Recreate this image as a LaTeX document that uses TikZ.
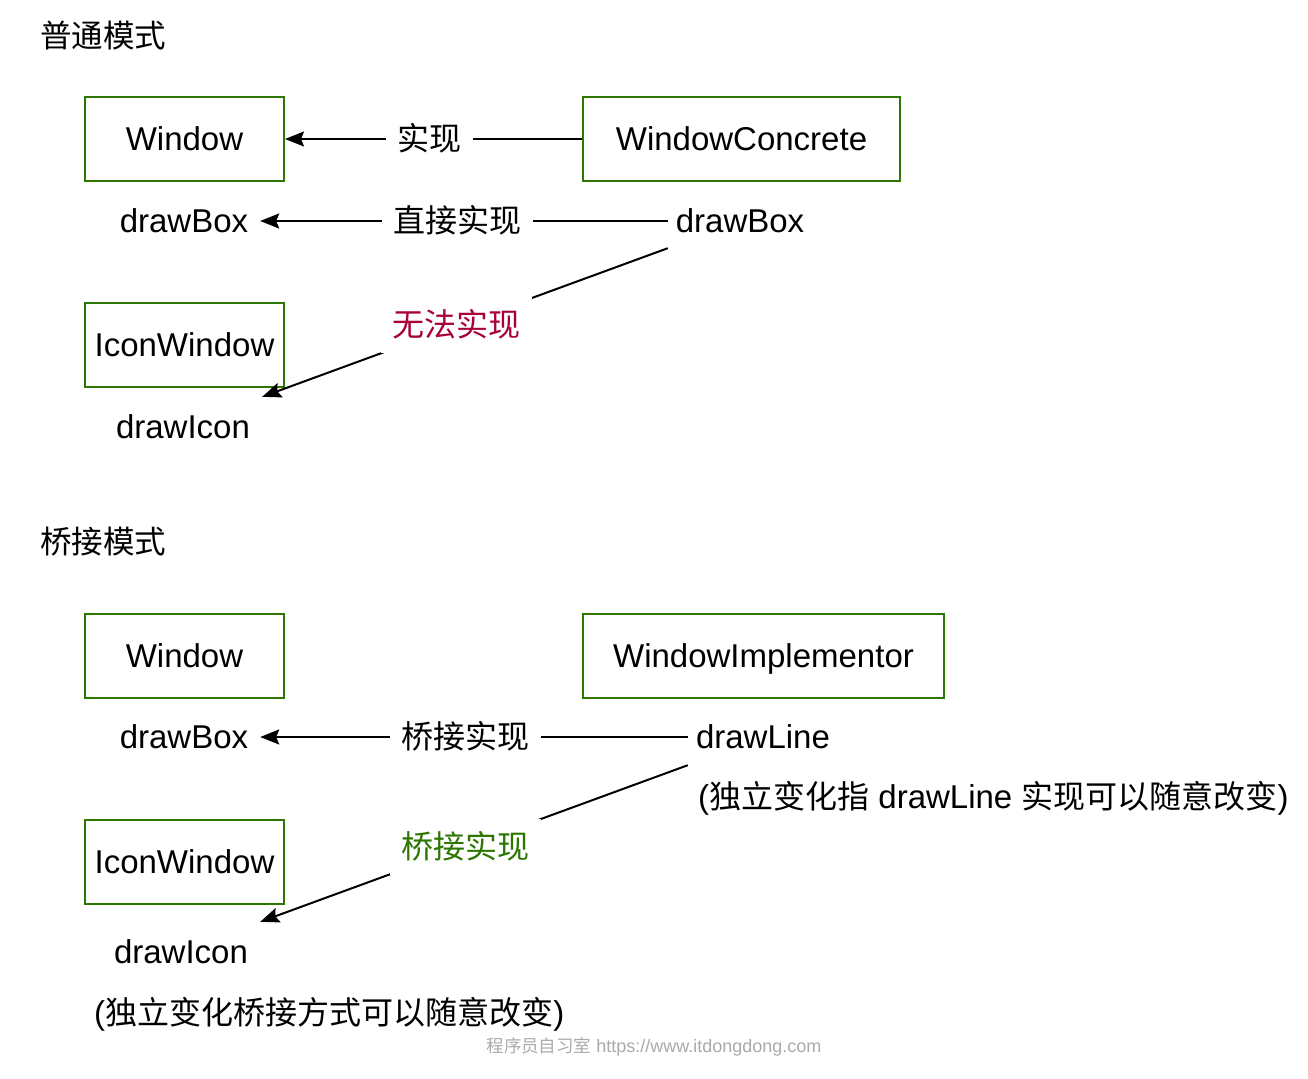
\documentclass[tikz,border=0pt]{standalone}
\usepackage{fontspec}
\setmainfont{Liberation Sans}
\newfontfamily\cjk[Scale=0.97]{Noto Sans CJK SC}
\usetikzlibrary{arrows.meta}
\definecolor{boxgreen}{HTML}{2D7600}
\definecolor{redtxt}{HTML}{A8003A}
\definecolor{greentxt}{HTML}{2D7600}
\definecolor{wmgray}{HTML}{AAAAAA}
\tikzset{
  base/.style={font=\fontsize{33}{40}\selectfont, text height=23pt, text depth=0pt, inner sep=0pt},
  cls/.style={base, draw=boxgreen, line width=2pt, minimum height=84pt},
  txt/.style={base},
  lbl/.style={base, fill=white, inner xsep=11.5pt, minimum height=56pt},
  conn/.style={line width=2pt, -{Stealth[length=19pt,width=15pt,inset=3pt]}},
  ttl/.style={base, anchor=west, font=\fontsize{32.5}{39}\selectfont},
  note/.style={base, anchor=west},
  wm/.style={font=\fontsize{18}{22}\selectfont, text=wmgray, inner sep=0pt},
}
\begin{document}
\begin{tikzpicture}[x=1pt,y=-1pt]
\useasboundingbox[fill=white] (0,0) rectangle (1308,1078);

% ---- section 1: normal mode
\node[ttl] (t1) at (40,36) {\cjk 普通模式};
\node[cls, minimum width=199pt] (w1) at (184.5,139) {Window};
\node[cls, minimum width=317pt] (wc) at (741.5,139) {WindowConcrete};
\node[txt, minimum width=152pt] (db1) at (184,221) {drawBox};
\node[txt, minimum width=144pt, minimum height=54pt] (db2) at (740,221) {drawBox};
\node[cls, minimum width=199pt] (iw1) at (184.5,345) {IconWindow};
\node[txt, minimum width=158pt, minimum height=60pt] (di1) at (183,427) {drawIcon};

\draw[conn] (wc.west) -- node[lbl, pos=0.512] {\cjk 实现} (w1.east);
\draw[conn] (db2.west) -- node[lbl, pos=0.515] {\cjk 直接实现} (db1.east);
\draw[conn] (db2.south west) -- node[lbl, pos=0.52, text=redtxt] {\cjk 无法实现} (di1.north east);

% ---- section 2: bridge mode
\node[ttl] (t2) at (40,542) {\cjk 桥接模式};
\node[cls, minimum width=199pt] (w2) at (184.5,656) {Window};
\node[cls, minimum width=361pt] (wi) at (763.5,656) {WindowImplementor};
\node[txt, minimum width=152pt] (db3) at (184,737) {drawBox};
\node[txt, minimum width=150pt, minimum height=56pt] (dl) at (763,737) {drawLine};
\node[note] (n1) at (698,797) {({\cjk 独立变化指} drawLine {\cjk 实现可以随意改变})};
\node[cls, minimum width=199pt] (iw2) at (184.5,862) {IconWindow};
\node[txt, minimum width=158pt, minimum height=60pt] (di2) at (181,952) {drawIcon};
\node[note] (n2) at (94,1013) {({\cjk 独立变化桥接方式可以随意改变})};

\draw[conn] (dl.west) -- node[lbl, pos=0.519] {\cjk 桥接实现} (db3.east);
\draw[conn] (dl.south west) -- node[lbl, pos=0.521, text=greentxt] {\cjk 桥接实现} (di2.north east);

% ---- watermark
\node[wm] (wmk) at (654,1047) {{\cjk 程序员自习室} https://www.itdongdong.com};
\end{tikzpicture}
\end{document}
